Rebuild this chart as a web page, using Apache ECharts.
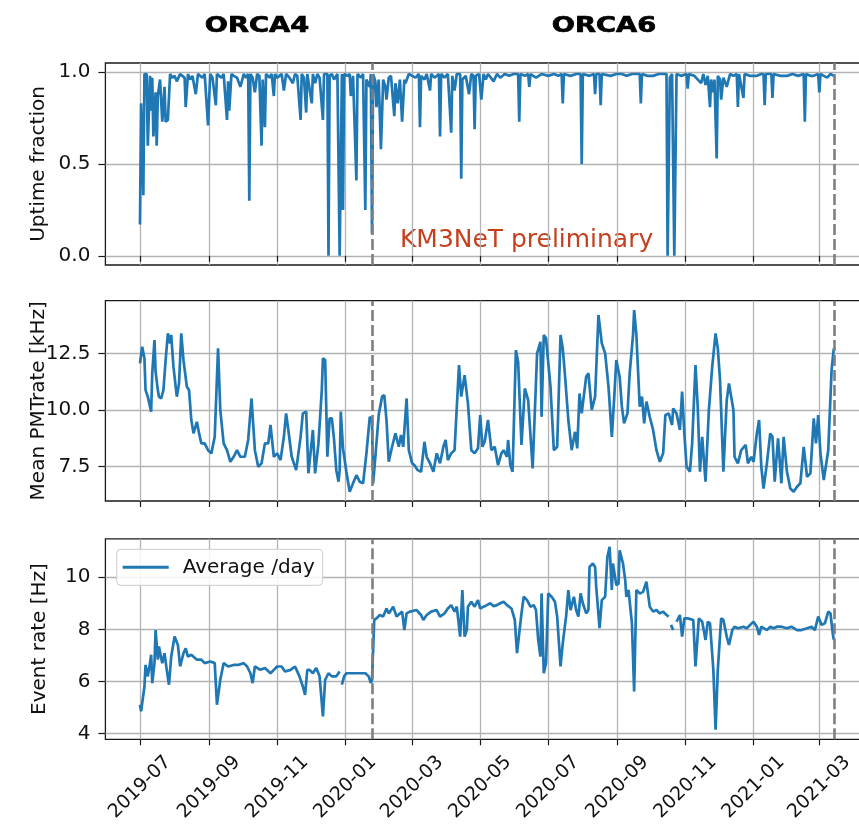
<!DOCTYPE html>
<html>
<head>
<meta charset="utf-8">
<script src="https://cdn.jsdelivr.net/npm/echarts@6/dist/echarts.min.js"></script>
<style>
  html, body { margin: 0; padding: 0; background: #fff; }
  #chart { width: 859px; height: 827px; }
</style>
</head>
<body>
<div id="chart"></div>
<script>
// Daily detector monitoring, ORCA4 then ORCA6 configuration
const periodTitles = ['ORCA4', 'ORCA6'];
const runBoundaries = ['2020-01-25', '2021-03-14'];
const monthTicks = ['2019-07-01', '2019-09-01', '2019-11-01', '2020-01-01', '2020-03-01',
  '2020-05-01', '2020-07-01', '2020-09-01', '2020-11-01', '2021-01-01', '2021-03-01'];
const uptimeTicks = [0, 0.5, 1.0];
const pmtTicks = [7.5, 10.0, 12.5];
const eventTicks = [4, 6, 8, 10];

const uptime = [
  ['2019-07-01', 0.17], ['2019-07-02', 0.83], ['2019-07-03', 0.83], ['2019-07-04', 0.33],
  ['2019-07-05', 0.99], ['2019-07-07', 0.99], ['2019-07-08', 0.60], ['2019-07-10', 0.98],
  ['2019-07-11', 0.79], ['2019-07-12', 0.97], ['2019-07-13', 0.65], ['2019-07-15', 0.89],
  ['2019-07-16', 0.60], ['2019-07-17', 0.87], ['2019-07-19', 0.96], ['2019-07-21', 0.73],
  ['2019-07-23', 0.92], ['2019-07-24', 0.73], ['2019-07-26', 0.74], ['2019-07-28', 0.99],
  ['2019-07-30', 0.97], ['2019-08-01', 0.98], ['2019-08-03', 0.95], ['2019-08-06', 0.99],
  ['2019-08-08', 0.98], ['2019-08-10', 0.97], ['2019-08-11', 0.81], ['2019-08-13', 0.99],
  ['2019-08-15', 0.96], ['2019-08-17', 0.98], ['2019-08-20', 0.88], ['2019-08-22', 0.99],
  ['2019-08-24', 0.98], ['2019-08-26', 0.97], ['2019-08-28', 0.99], ['2019-08-31', 0.71],
  ['2019-09-02', 0.99], ['2019-09-04', 0.97], ['2019-09-07', 0.82], ['2019-09-08', 0.99],
  ['2019-09-10', 0.98], ['2019-09-12', 0.97], ['2019-09-14', 0.99], ['2019-09-17', 0.74],
  ['2019-09-18', 0.95], ['2019-09-19', 0.79], ['2019-09-21', 0.99], ['2019-09-23', 0.98],
  ['2019-09-26', 0.97], ['2019-09-29', 0.92], ['2019-10-02', 0.99], ['2019-10-04', 0.97],
  ['2019-10-06', 0.99], ['2019-10-07', 0.30], ['2019-10-08', 0.99], ['2019-10-10', 0.97],
  ['2019-10-12', 0.89], ['2019-10-14', 0.99], ['2019-10-16', 0.98], ['2019-10-18', 0.60],
  ['2019-10-19', 0.96], ['2019-10-21', 0.70], ['2019-10-22', 0.99], ['2019-10-25', 0.97],
  ['2019-10-27', 0.99], ['2019-10-29', 0.87], ['2019-10-30', 0.99], ['2019-11-01', 0.97],
  ['2019-11-03', 0.98], ['2019-11-05', 0.99], ['2019-11-07', 0.90], ['2019-11-09', 0.99],
  ['2019-11-12', 0.97], ['2019-11-15', 0.94], ['2019-11-17', 0.99], ['2019-11-19', 0.98],
  ['2019-11-22', 0.74], ['2019-11-23', 0.99], ['2019-11-25', 0.97], ['2019-11-27', 0.78],
  ['2019-11-28', 0.99], ['2019-12-02', 0.83], ['2019-12-03', 0.99], ['2019-12-05', 0.94],
  ['2019-12-07', 0.99], ['2019-12-09', 0.97], ['2019-12-12', 0.74], ['2019-12-13', 0.99],
  ['2019-12-16', 0.99], ['2019-12-17', 0.00], ['2019-12-18', 0.98], ['2019-12-20', 0.99],
  ['2019-12-22', 0.96], ['2019-12-25', 0.99], ['2019-12-26', 0.99], ['2019-12-27', 0.00],
  ['2019-12-29', 0.99], ['2019-12-30', 0.25], ['2019-12-31', 0.99], ['2020-01-03', 0.98],
  ['2020-01-05', 0.99], ['2020-01-06', 0.87], ['2020-01-08', 0.98], ['2020-01-11', 0.41],
  ['2020-01-12', 0.99], ['2020-01-15', 0.97], ['2020-01-17', 0.99], ['2020-01-19', 0.25],
  ['2020-01-20', 0.96], ['2020-01-23', 0.92], ['2020-01-24', 0.99], ['2020-01-25', 0.12],
  ['2020-01-26', 0.99], ['2020-01-28', 0.95], ['2020-01-29', 0.81], ['2020-01-31', 0.96],
  ['2020-02-02', 0.58], ['2020-02-04', 0.96], ['2020-02-06', 0.92], ['2020-02-07', 0.85],
  ['2020-02-09', 0.97], ['2020-02-11', 0.98], ['2020-02-14', 0.76], ['2020-02-15', 0.94],
  ['2020-02-17', 0.83], ['2020-02-19', 0.96], ['2020-02-21', 0.73], ['2020-02-23', 0.96],
  ['2020-02-24', 0.94], ['2020-02-27', 0.99], ['2020-03-01', 0.98], ['2020-03-04', 0.97],
  ['2020-03-07', 0.99], ['2020-03-08', 0.70], ['2020-03-09', 0.98], ['2020-03-12', 0.96],
  ['2020-03-14', 0.99], ['2020-03-17', 0.90], ['2020-03-18', 0.99], ['2020-03-21', 0.97],
  ['2020-03-25', 0.99], ['2020-03-26', 0.65], ['2020-03-27', 0.99], ['2020-03-30', 0.97],
  ['2020-04-02', 0.99], ['2020-04-05', 0.67], ['2020-04-06', 0.98], ['2020-04-08', 0.90],
  ['2020-04-10', 0.99], ['2020-04-13', 0.99], ['2020-04-14', 0.42], ['2020-04-15', 0.96],
  ['2020-04-18', 0.98], ['2020-04-21', 0.88], ['2020-04-23', 0.99], ['2020-04-25', 0.98],
  ['2020-04-26', 0.69], ['2020-04-27', 0.98], ['2020-04-30', 0.99], ['2020-05-02', 0.85],
  ['2020-05-04', 0.99], ['2020-05-06', 0.96], ['2020-05-08', 0.99], ['2020-05-13', 0.95],
  ['2020-05-16', 0.99], ['2020-05-19', 0.97], ['2020-05-23', 0.99], ['2020-05-27', 0.98],
  ['2020-05-31', 0.99], ['2020-06-04', 0.99], ['2020-06-05', 0.73], ['2020-06-06', 0.99],
  ['2020-06-10', 0.98], ['2020-06-13', 0.99], ['2020-06-14', 0.92], ['2020-06-15', 0.99],
  ['2020-06-20', 0.97], ['2020-06-25', 0.99], ['2020-07-01', 0.98], ['2020-07-06', 0.99],
  ['2020-07-10', 0.98], ['2020-07-13', 0.99], ['2020-07-14', 0.83], ['2020-07-15', 0.99],
  ['2020-07-21', 0.98], ['2020-07-26', 0.99], ['2020-07-30', 0.99], ['2020-07-31', 0.50],
  ['2020-08-01', 0.99], ['2020-08-07', 0.98], ['2020-08-11', 0.99], ['2020-08-12', 0.88],
  ['2020-08-13', 0.99], ['2020-08-16', 0.99], ['2020-08-17', 0.82], ['2020-08-18', 0.99],
  ['2020-08-26', 0.98], ['2020-08-31', 0.99], ['2020-09-05', 0.99], ['2020-09-09', 0.98],
  ['2020-09-14', 0.99], ['2020-09-21', 0.99], ['2020-09-22', 0.83], ['2020-09-23', 0.99],
  ['2020-09-28', 0.98], ['2020-10-03', 0.98], ['2020-10-08', 0.99], ['2020-10-15', 0.99],
  ['2020-10-16', 0.00], ['2020-10-18', 0.97], ['2020-10-20', 0.99], ['2020-10-22', 0.00],
  ['2020-10-24', 0.99], ['2020-10-28', 0.98], ['2020-11-02', 0.99], ['2020-11-03', 0.91],
  ['2020-11-04', 0.99], ['2020-11-09', 0.98], ['2020-11-15', 0.94], ['2020-11-17', 0.99],
  ['2020-11-19', 0.93], ['2020-11-21', 0.98], ['2020-11-23', 0.81], ['2020-11-24', 0.96],
  ['2020-11-26', 0.89], ['2020-11-27', 0.96], ['2020-11-29', 0.53], ['2020-11-30', 0.98],
  ['2020-12-02', 0.96], ['2020-12-03', 0.85], ['2020-12-05', 0.97], ['2020-12-08', 0.92],
  ['2020-12-11', 0.99], ['2020-12-14', 0.98], ['2020-12-17', 0.99], ['2020-12-18', 0.81],
  ['2020-12-19', 0.99], ['2020-12-23', 0.86], ['2020-12-24', 0.99], ['2020-12-29', 0.98],
  ['2021-01-04', 0.98], ['2021-01-08', 0.99], ['2021-01-10', 0.99], ['2021-01-11', 0.82],
  ['2021-01-12', 0.99], ['2021-01-17', 0.99], ['2021-01-18', 0.86], ['2021-01-19', 0.99],
  ['2021-01-25', 0.98], ['2021-01-31', 0.98], ['2021-02-05', 0.99], ['2021-02-10', 0.98],
  ['2021-02-15', 0.99], ['2021-02-16', 0.73], ['2021-02-17', 0.99], ['2021-02-21', 0.98],
  ['2021-02-24', 0.98], ['2021-02-28', 0.99], ['2021-03-01', 0.89], ['2021-03-02', 0.99],
  ['2021-03-05', 0.98], ['2021-03-08', 0.97], ['2021-03-11', 0.99], ['2021-03-14', 0.98]
];

const pmtRate = [
  ['2019-07-01', 12.06], ['2019-07-03', 12.79], ['2019-07-05', 12.28], ['2019-07-06', 10.88],
  ['2019-07-08', 10.59], ['2019-07-11', 9.93], ['2019-07-12', 11.62], ['2019-07-14', 13.08],
  ['2019-07-15', 11.69], ['2019-07-17', 10.88], ['2019-07-18', 10.59], ['2019-07-20', 10.51],
  ['2019-07-22', 10.88], ['2019-07-24', 12.20], ['2019-07-26', 13.38], ['2019-07-28', 12.94],
  ['2019-07-29', 13.31], ['2019-07-31', 11.91], ['2019-08-03', 10.59], ['2019-08-05', 11.17],
  ['2019-08-07', 13.38], ['2019-08-09', 12.20], ['2019-08-12', 11.03], ['2019-08-14', 10.88],
  ['2019-08-16', 9.56], ['2019-08-18', 8.97], ['2019-08-21', 9.48], ['2019-08-23', 8.97],
  ['2019-08-25', 8.53], ['2019-08-28', 8.53], ['2019-08-31', 8.23], ['2019-09-03', 8.09],
  ['2019-09-06', 8.82], ['2019-09-09', 12.72], ['2019-09-11', 10.00], ['2019-09-14', 8.53],
  ['2019-09-17', 8.23], ['2019-09-20', 7.72], ['2019-09-23', 7.94], ['2019-09-26', 8.23],
  ['2019-09-29', 7.94], ['2019-10-03', 7.94], ['2019-10-06', 8.68], ['2019-10-09', 10.51],
  ['2019-10-12', 8.23], ['2019-10-15', 7.50], ['2019-10-18', 7.65], ['2019-10-21', 8.53],
  ['2019-10-24', 8.53], ['2019-10-26', 9.34], ['2019-10-29', 7.94], ['2019-11-01', 8.09],
  ['2019-11-04', 7.79], ['2019-11-07', 8.82], ['2019-11-09', 9.85], ['2019-11-11', 9.12],
  ['2019-11-14', 7.94], ['2019-11-18', 7.35], ['2019-11-22', 8.82], ['2019-11-24', 9.85],
  ['2019-11-27', 9.93], ['2019-11-29', 7.21], ['2019-12-03', 9.12], ['2019-12-05', 7.21],
  ['2019-12-08', 8.53], ['2019-12-11', 10.88], ['2019-12-12', 12.28], ['2019-12-14', 12.20],
  ['2019-12-16', 7.94], ['2019-12-18', 9.63], ['2019-12-20', 9.63], ['2019-12-22', 8.68],
  ['2019-12-24', 7.35], ['2019-12-26', 6.84], ['2019-12-27', 7.35], ['2019-12-28', 9.93],
  ['2019-12-30', 8.31], ['2020-01-02', 7.28], ['2020-01-05', 6.40], ['2020-01-08', 6.77],
  ['2020-01-11', 7.13], ['2020-01-14', 6.84], ['2020-01-17', 6.77], ['2020-01-20', 8.09],
  ['2020-01-23', 9.70], ['2020-01-25', 9.56], ['2020-01-26', 6.77], ['2020-01-28', 7.94],
  ['2020-01-31', 9.78], ['2020-02-03', 10.59], ['2020-02-05', 10.66], ['2020-02-07', 9.56],
  ['2020-02-09', 7.72], ['2020-02-12', 8.38], ['2020-02-15', 8.97], ['2020-02-18', 8.38],
  ['2020-02-20', 8.90], ['2020-02-22', 8.38], ['2020-02-25', 10.51], ['2020-02-27', 8.23],
  ['2020-03-01', 7.65], ['2020-03-03', 7.57], ['2020-03-06', 7.35], ['2020-03-09', 7.28],
  ['2020-03-12', 8.60], ['2020-03-14', 7.94], ['2020-03-17', 7.65], ['2020-03-20', 7.28],
  ['2020-03-23', 8.09], ['2020-03-26', 7.65], ['2020-03-29', 8.38], ['2020-03-31', 8.68],
  ['2020-04-02', 7.79], ['2020-04-05', 8.09], ['2020-04-08', 8.23], ['2020-04-12', 11.98],
  ['2020-04-14', 10.59], ['2020-04-17', 11.54], ['2020-04-20', 10.29], ['2020-04-23', 8.23],
  ['2020-04-26', 8.09], ['2020-04-29', 8.31], ['2020-05-01', 9.78], ['2020-05-03', 8.38],
  ['2020-05-05', 8.60], ['2020-05-08', 9.56], ['2020-05-11', 8.23], ['2020-05-14', 8.38],
  ['2020-05-17', 7.57], ['2020-05-20', 8.09], ['2020-05-22', 8.23], ['2020-05-25', 7.94],
  ['2020-05-26', 8.68], ['2020-05-28', 7.57], ['2020-05-30', 7.28], ['2020-06-02', 12.64],
  ['2020-06-04', 12.13], ['2020-06-07', 8.46], ['2020-06-10', 10.95], ['2020-06-13', 10.44],
  ['2020-06-17', 7.43], ['2020-06-21', 12.50], ['2020-06-24', 13.01], ['2020-06-25', 9.70],
  ['2020-06-27', 13.31], ['2020-06-29', 13.16], ['2020-07-03', 11.03], ['2020-07-06', 8.23],
  ['2020-07-09', 8.38], ['2020-07-12', 13.31], ['2020-07-14', 12.72], ['2020-07-16', 11.54],
  ['2020-07-19', 9.56], ['2020-07-22', 8.23], ['2020-07-25', 9.04], ['2020-07-27', 8.31],
  ['2020-07-29', 10.73], ['2020-07-31', 9.85], ['2020-08-04', 11.47], ['2020-08-06', 11.62],
  ['2020-08-09', 10.00], ['2020-08-12', 10.59], ['2020-08-15', 14.19], ['2020-08-18', 12.94],
  ['2020-08-21', 12.50], ['2020-08-24', 11.03], ['2020-08-27', 8.82], ['2020-08-29', 10.44],
  ['2020-08-31', 12.20], ['2020-09-03', 11.47], ['2020-09-05', 10.15], ['2020-09-07', 9.41],
  ['2020-09-10', 9.85], ['2020-09-12', 11.62], ['2020-09-15', 13.31], ['2020-09-16', 14.41],
  ['2020-09-18', 13.31], ['2020-09-21', 10.15], ['2020-09-23', 10.59], ['2020-09-25', 9.41],
  ['2020-09-27', 10.37], ['2020-09-30', 9.70], ['2020-10-03', 9.12], ['2020-10-06', 8.23],
  ['2020-10-09', 7.72], ['2020-10-12', 8.09], ['2020-10-14', 9.78], ['2020-10-17', 9.85],
  ['2020-10-20', 9.34], ['2020-10-21', 10.07], ['2020-10-24', 9.85], ['2020-10-27', 9.12],
  ['2020-10-29', 10.81], ['2020-10-31', 8.97], ['2020-11-02', 7.50], ['2020-11-05', 7.28],
  ['2020-11-07', 8.53], ['2020-11-10', 11.98], ['2020-11-12', 10.15], ['2020-11-14', 7.28],
  ['2020-11-16', 8.82], ['2020-11-19', 6.84], ['2020-11-22', 10.00], ['2020-11-25', 11.91],
  ['2020-11-28', 13.38], ['2020-11-30', 12.72], ['2020-12-02', 11.32], ['2020-12-05', 7.28],
  ['2020-12-08', 10.44], ['2020-12-10', 11.17], ['2020-12-14', 10.00], ['2020-12-15', 7.94],
  ['2020-12-18', 7.65], ['2020-12-21', 8.23], ['2020-12-25', 8.46], ['2020-12-27', 7.65],
  ['2020-12-30', 7.94], ['2021-01-01', 7.72], ['2021-01-04', 8.97], ['2021-01-06', 9.56],
  ['2021-01-08', 7.50], ['2021-01-10', 6.54], ['2021-01-13', 7.65], ['2021-01-16', 8.97],
  ['2021-01-18', 8.82], ['2021-01-20', 6.84], ['2021-01-23', 8.75], ['2021-01-26', 6.77],
  ['2021-01-28', 8.82], ['2021-01-31', 7.28], ['2021-02-03', 6.54], ['2021-02-06', 6.40],
  ['2021-02-09', 6.62], ['2021-02-12', 6.77], ['2021-02-15', 8.38], ['2021-02-18', 7.06],
  ['2021-02-21', 7.21], ['2021-02-24', 9.63], ['2021-02-26', 8.53], ['2021-02-28', 9.78],
  ['2021-03-02', 8.09], ['2021-03-05', 6.91], ['2021-03-09', 8.23], ['2021-03-12', 11.76],
  ['2021-03-14', 12.72]
];

// null entries are days without data (the line is broken there)
const eventRate = [
  ['2019-07-01', 5.10], ['2019-07-02', 4.85], ['2019-07-05', 5.80], ['2019-07-06', 6.63],
  ['2019-07-08', 6.19], ['2019-07-10', 6.70], ['2019-07-11', 7.02], ['2019-07-12', 5.93],
  ['2019-07-14', 6.70], ['2019-07-15', 7.97], ['2019-07-17', 6.83], ['2019-07-18', 7.34],
  ['2019-07-20', 6.89], ['2019-07-21', 6.70], ['2019-07-23', 7.08], ['2019-07-25', 6.44],
  ['2019-07-27', 5.87], ['2019-07-29', 6.95], ['2019-08-01', 7.72], ['2019-08-04', 7.40],
  ['2019-08-06', 6.57], ['2019-08-09', 7.08], ['2019-08-11', 7.27], ['2019-08-13', 6.95],
  ['2019-08-16', 7.02], ['2019-08-21', 6.83], ['2019-08-25', 6.83], ['2019-08-28', 6.70],
  ['2019-09-02', 6.76], ['2019-09-06', 6.70], ['2019-09-08', 5.10], ['2019-09-11', 6.06],
  ['2019-09-14', 6.70], ['2019-09-18', 6.57], ['2019-09-23', 6.63], ['2019-09-27', 6.63],
  ['2019-10-02', 6.70], ['2019-10-05', 6.57], ['2019-10-08', 6.31], ['2019-10-10', 5.93],
  ['2019-10-12', 6.57], ['2019-10-17', 6.44], ['2019-10-21', 6.51], ['2019-10-26', 6.31],
  ['2019-10-29', 6.44], ['2019-11-01', 6.57], ['2019-11-05', 6.57], ['2019-11-08', 6.38],
  ['2019-11-13', 6.44], ['2019-11-17', 6.57], ['2019-11-21', 6.19], ['2019-11-24', 5.80],
  ['2019-11-26', 5.48], ['2019-11-28', 6.44], ['2019-11-30', 6.44], ['2019-12-03', 6.31],
  ['2019-12-06', 6.51], ['2019-12-09', 6.19], ['2019-12-12', 4.65], ['2019-12-14', 6.06],
  ['2019-12-17', 6.31], ['2019-12-20', 6.19], ['2019-12-24', 6.19], ['2019-12-27', 6.38],
  ['2019-12-28', null], ['2019-12-29', 5.87], ['2019-12-31', 6.19], ['2020-01-02', 6.31],
  ['2020-01-07', 6.31], ['2020-01-11', 6.31], ['2020-01-16', 6.31], ['2020-01-19', 6.31],
  ['2020-01-22', 6.19], ['2020-01-24', 5.93], ['2020-01-25', 6.06], ['2020-01-27', 8.36],
  ['2020-01-29', 8.42], ['2020-02-01', 8.55], ['2020-02-04', 8.49], ['2020-02-07', 8.80],
  ['2020-02-09', 8.61], ['2020-02-13', 8.87], ['2020-02-16', 8.49], ['2020-02-21', 8.68],
  ['2020-02-23', 7.97], ['2020-02-25', 8.61], ['2020-02-28', 8.68], ['2020-03-05', 8.74],
  ['2020-03-09', 8.55], ['2020-03-11', 8.36], ['2020-03-14', 8.55], ['2020-03-18', 8.68],
  ['2020-03-23', 8.74], ['2020-03-26', 8.49], ['2020-03-30', 8.61], ['2020-04-02', 8.80],
  ['2020-04-05', 8.93], ['2020-04-08', 8.68], ['2020-04-10', 8.87], ['2020-04-13', 7.72],
  ['2020-04-15', 9.51], ['2020-04-17', 7.72], ['2020-04-19', 7.97], ['2020-04-20', 8.87],
  ['2020-04-23', 9.06], ['2020-04-26', 8.87], ['2020-04-29', 9.12], ['2020-05-01', 8.80],
  ['2020-05-04', 8.87], ['2020-05-07', 8.93], ['2020-05-10', 9.00], ['2020-05-13', 8.89],
  ['2020-05-16', 8.93], ['2020-05-19', 9.00], ['2020-05-22', 9.06], ['2020-05-25', 8.93],
  ['2020-05-29', 8.80], ['2020-06-01', 8.36], ['2020-06-03', 7.08], ['2020-06-05', 7.85],
  ['2020-06-07', 8.61], ['2020-06-09', 9.25], ['2020-06-12', 9.12], ['2020-06-15', 8.87],
  ['2020-06-18', 8.93], ['2020-06-20', 8.74], ['2020-06-22', 7.59], ['2020-06-24', 6.95],
  ['2020-06-25', 9.38], ['2020-06-27', 6.31], ['2020-06-29', 6.70], ['2020-07-01', 9.38],
  ['2020-07-04', 9.25], ['2020-07-07', 9.06], ['2020-07-09', 8.49], ['2020-07-12', 6.57],
  ['2020-07-14', 7.46], ['2020-07-17', 8.49], ['2020-07-19', 9.51], ['2020-07-21', 8.74],
  ['2020-07-24', 9.25], ['2020-07-26', 8.74], ['2020-07-28', 8.49], ['2020-07-30', 9.38],
  ['2020-08-01', 9.00], ['2020-08-04', 8.61], ['2020-08-06', 8.74], ['2020-08-07', 10.40],
  ['2020-08-10', 10.53], ['2020-08-12', 10.40], ['2020-08-13', 9.63], ['2020-08-16', 8.04],
  ['2020-08-18', 9.12], ['2020-08-21', 9.25], ['2020-08-23', 10.78], ['2020-08-25', 11.17],
  ['2020-08-27', 9.51], ['2020-08-28', 10.53], ['2020-08-31', 9.70], ['2020-09-02', 9.76],
  ['2020-09-03', 11.04], ['2020-09-06', 10.53], ['2020-09-08', 9.89], ['2020-09-09', 9.25],
  ['2020-09-11', 9.51], ['2020-09-14', 8.23], ['2020-09-16', 5.61], ['2020-09-18', 9.51],
  ['2020-09-21', 9.38], ['2020-09-24', 9.44], ['2020-09-27', 9.83], ['2020-09-30', 8.87],
  ['2020-10-03', 8.68], ['2020-10-06', 8.74], ['2020-10-09', 8.61], ['2020-10-12', 8.68],
  ['2020-10-15', 8.55], ['2020-10-17', 8.49], ['2020-10-18', null], ['2020-10-19', 8.17],
  ['2020-10-21', 7.97], ['2020-10-22', null], ['2020-10-24', 8.29], ['2020-10-27', 8.55],
  ['2020-10-29', 7.72], ['2020-10-31', 8.42], ['2020-11-03', 8.42], ['2020-11-08', 8.36],
  ['2020-11-10', 6.57], ['2020-11-13', 8.42], ['2020-11-16', 8.29], ['2020-11-19', 7.59],
  ['2020-11-21', 8.29], ['2020-11-23', 8.23], ['2020-11-26', 6.44], ['2020-11-28', 4.14],
  ['2020-11-30', 6.44], ['2020-12-03', 8.42], ['2020-12-05', 8.36], ['2020-12-08', 7.72],
  ['2020-12-10', 7.40], ['2020-12-13', 7.97], ['2020-12-15', 8.10], ['2020-12-18', 8.04],
  ['2020-12-23', 8.10], ['2020-12-26', 8.04], ['2020-12-29', 8.17], ['2021-01-01', 8.29],
  ['2021-01-04', 8.10], ['2021-01-06', 7.78], ['2021-01-08', 8.10], ['2021-01-13', 7.97],
  ['2021-01-16', 8.10], ['2021-01-19', 8.04], ['2021-01-22', 8.10], ['2021-01-26', 8.10],
  ['2021-01-31', 8.04], ['2021-02-04', 8.10], ['2021-02-09', 7.97], ['2021-02-13', 7.97],
  ['2021-02-18', 8.04], ['2021-02-22', 8.10], ['2021-02-25', 7.97], ['2021-02-28', 8.49],
  ['2021-03-03', 8.17], ['2021-03-06', 8.23], ['2021-03-09', 8.68], ['2021-03-11', 8.61],
  ['2021-03-13', 7.85], ['2021-03-14', 7.59]
];

const FONT = 'DejaVu Sans';
const BLUE = '#1f77b4';
// dates are placed on a numeric axis as millisecond timestamps (local midnight)
const toTime = s => new Date(s + 'T00:00:00').getTime();
const xMin = toTime('2019-05-31');
const xMax = toTime('2021-04-14');
const monthTickTimes = monthTicks.map(toTime);

// y-axis titles share one column on the left
const panels = [
  { top: 63, height: 202, min: -0.05, max: 1.05, ticks: uptimeTicks, name: 'Uptime fraction',
    nameGap: 57, fmt: v => v.toFixed(1), data: uptime, series: 'Uptime fraction' },
  { top: 300.7, height: 200.3, min: 5.99, max: 14.82, ticks: pmtTicks, name: 'Mean PMTrate [kHz]',
    nameGap: 57, fmt: v => v.toFixed(1), data: pmtRate, series: 'Mean PMT rate' },
  { top: 538.8, height: 200.5, min: 3.77, max: 11.48, ticks: eventTicks, name: 'Event rate [Hz]',
    nameGap: 56, fmt: v => String(v), data: eventRate, series: 'Average /day' }
];

const monthLabel = v => {
  const d = new Date(v);
  return d.getFullYear() + '-' + String(d.getMonth() + 1).padStart(2, '0');
};

const chart = echarts.init(document.getElementById('chart'), null, { renderer: 'canvas' });

const option = {
  animation: false,
  backgroundColor: '#ffffff',
  textStyle: { fontFamily: FONT },
  grid: panels.map(p => ({
    left: 105.4, width: 763, top: p.top, height: p.height,
    outerBoundsMode: 'none', containLabel: false,
    show: true, borderColor: '#1a1a1a', borderWidth: 1.3, backgroundColor: 'transparent'
  })),
  xAxis: panels.map((p, i) => ({
    type: 'value', gridIndex: i, min: xMin, max: xMax, scale: true,
    axisLine: { show: false },
    axisTick: { show: true, customValues: monthTickTimes, length: 6, lineStyle: { color: '#1a1a1a', width: 1.2 } },
    axisLabel: i === 2 ? {
      show: true, customValues: monthTickTimes, formatter: monthLabel, rotate: 45,
      align: 'center', verticalAlign: 'middle', margin: 48,
      fontFamily: FONT, fontSize: 19, color: '#111'
    } : { show: false, customValues: monthTickTimes },
    splitLine: { show: true, lineStyle: { color: '#b3b3b3', width: 1.3 } }
  })),
  yAxis: panels.map((p, i) => ({
    type: 'value', gridIndex: i, min: p.min, max: p.max,
    name: p.name, nameLocation: 'middle', nameGap: p.nameGap, nameMoveOverlap: false,
    nameTextStyle: { fontFamily: FONT, fontSize: 20, color: '#111' },
    axisLine: { show: false },
    axisTick: { show: true, customValues: p.ticks, length: 7, lineStyle: { color: '#1a1a1a', width: 1.2 } },
    axisLabel: { customValues: p.ticks, formatter: p.fmt, margin: 15, fontFamily: FONT, fontSize: 20, color: '#111' },
    splitLine: { show: true, lineStyle: { color: '#b3b3b3', width: 1.3 } }
  })),
  legend: {
    data: [{ name: 'Average /day', icon: 'rect' }],
    left: 116.7, top: 549.3,
    itemWidth: 46, itemHeight: 3, itemGap: 0,
    padding: [8, 8, 8, 6],
    backgroundColor: 'rgba(255,255,255,0.85)',
    borderColor: '#cccccc', borderWidth: 1, borderRadius: 4,
    textStyle: { fontFamily: FONT, fontSize: 20, color: '#111', padding: [0, 0, 0, 9] }
  },
  series: panels.map((p, i) => ({
    name: p.series, type: 'line', xAxisIndex: i, yAxisIndex: i,
    data: p.data.map(([d, v]) => [toTime(d), v]),
    symbol: 'none', showSymbol: false, connectNulls: false,
    lineStyle: { color: BLUE, width: 2.7 }, itemStyle: { color: BLUE },
    emphasis: { disabled: true },
    markLine: {
      silent: true, symbol: 'none', label: { show: false },
      lineStyle: { type: [11, 4], color: '#7f7f7f', width: 2.6 },
      emphasis: { disabled: true },
      data: runBoundaries.map(d => ({ xAxis: toTime(d) }))
    }
  })),
  graphic: [
    { type: 'text', x: 257, y: 27, scaleX: 1.3,
      style: { text: periodTitles[0], font: 'bold 21px "DejaVu Sans"', fill: '#000',
        stroke: '#000', lineWidth: 0.7, textAlign: 'center', textVerticalAlign: 'middle' } },
    { type: 'text', x: 604, y: 27, scaleX: 1.3,
      style: { text: periodTitles[1], font: 'bold 21px "DejaVu Sans"', fill: '#000',
        stroke: '#000', lineWidth: 0.7, textAlign: 'center', textVerticalAlign: 'middle' } },
    { type: 'text', x: 400, y: 241, scaleX: 1.04,
      style: { text: 'KM3NeT preliminary', font: '24px "DejaVu Sans"', fill: '#c5401e', textAlign: 'left', textVerticalAlign: 'middle' } }
  ]
};

chart.setOption(option);
</script>
</body>
</html>
